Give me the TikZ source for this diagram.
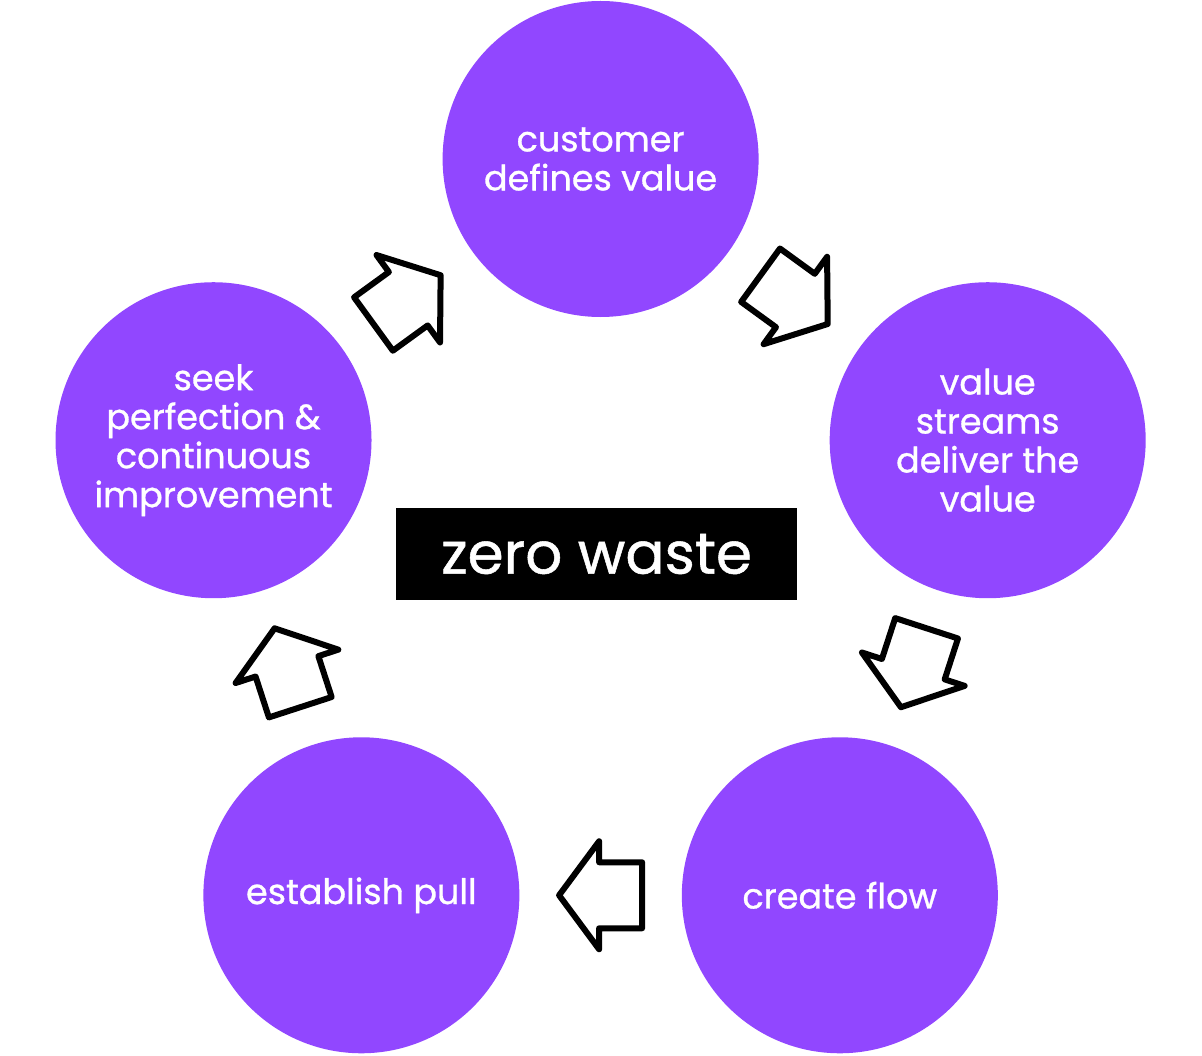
\documentclass[tikz,border=0pt]{standalone}
\usepackage{fontspec}
\setmainfont{Poppins}
\newfontfamily\stagefont{Poppins}[FakeBold=0.9]
\usepackage{tikz}
\usetikzlibrary{positioning, calc}
\usepackage{xcolor}
\definecolor{leanpurple}{RGB}{145,71,255}

\begin{document}
\begin{tikzpicture}[x=0.5pt, y=0.5pt,
  stage/.style={circle, fill=leanpurple, text=white, minimum size=158pt, inner sep=0pt, align=center, font=\stagefont\fontsize{17.5}{19.5}\selectfont},
  pics/blockarrow/.style={code={
    \draw[line width=3pt, line join=round, fill=white] (-41.5,-33) -- (1.5,-33) -- (1.5,-54) -- (41.5,0) -- (1.5,54) -- (1.5,33) -- (-41.5,33) -- cycle;
  }}]
\useasboundingbox (-600.6,-489) rectangle (601.4,566);
\node[stage] (cust) at (90:407) {customer\\defines value};
\node[stage] (vs) at (18:407) {value\\streams\\deliver the\\value};
\node[stage] (cf) at (-54:407) {create flow};
\node[stage] (pull) at (234:407) {establish pull};
\node[stage] (seek) at (162:407) {seek\\perfection \&\\continuous\\improvement};
\node[fill=black, text=white, minimum width=200.5pt, minimum height=46pt, font=\stagefont\fontsize{29}{34}\selectfont] (zw) at (-4,12) {zero waste};
% arrows between the stages
\pic[rotate=-36] at ($(cust)!0.5!(vs)$) {blockarrow};
\pic[rotate=-108] at ($(vs)!0.5!(cf)$) {blockarrow};
\pic[rotate=180] at ($(cf)!0.5!(pull)$) {blockarrow};
\pic[rotate=108] at ($(pull)!0.5!(seek)$) {blockarrow};
\pic[rotate=36] at ($(seek)!0.5!(cust)$) {blockarrow};
\end{tikzpicture}
\end{document}
